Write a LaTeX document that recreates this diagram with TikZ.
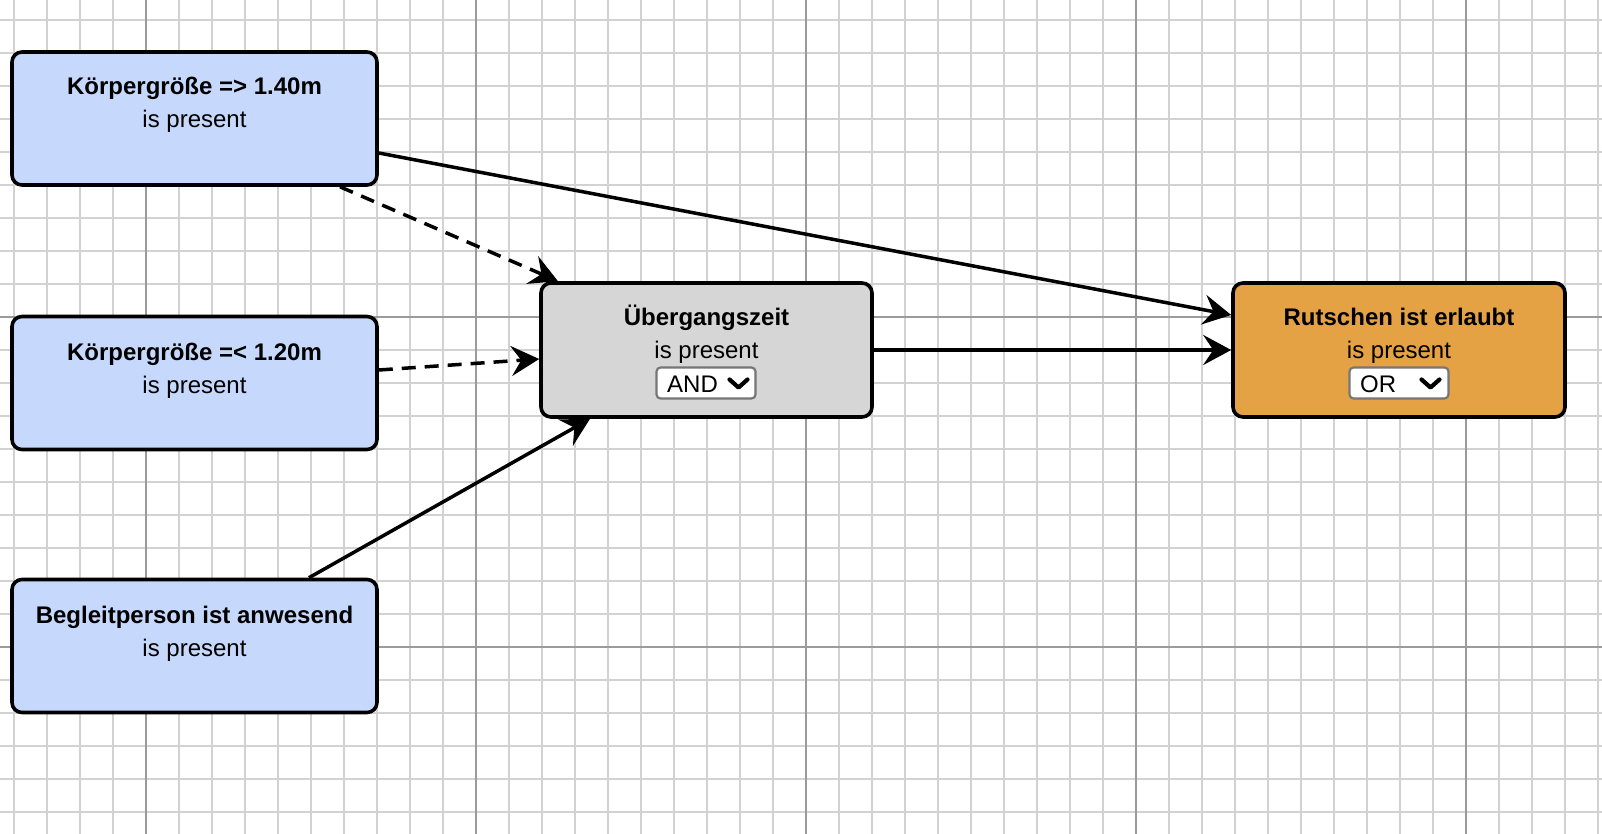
\documentclass[tikz,border=0pt]{standalone}
\usepackage{fontspec}
\setmainfont{Liberation Sans}
\usetikzlibrary{arrows.meta,calc}
\definecolor{boxblue}{RGB}{198,217,252}
\definecolor{boxgray}{RGB}{214,214,214}
\definecolor{boxorange}{RGB}{229,162,69}
\definecolor{gridminor}{RGB}{210,210,210}
\definecolor{gridmajor}{RGB}{155,155,155}
\definecolor{ddborder}{RGB}{118,118,118}
\tikzset{
  minorline/.style={draw=gridminor, line width=2.2pt},
  majorline/.style={draw=gridmajor, line width=2pt},
  card/.style={draw=black, line width=3.6pt, rounded corners=10pt, inner sep=0pt, minimum width=365pt, minimum height=133pt},
  bluecard/.style={card, fill=boxblue},
  graycard/.style={card, fill=boxgray, minimum width=331pt, minimum height=134pt},
  orangecard/.style={card, fill=boxorange, minimum width=332pt, minimum height=134pt},
  titletext/.style={anchor=base, inner sep=0pt, font=\fontsize{24}{28}\selectfont\bfseries},
  subtext/.style={anchor=base, inner sep=0pt, font=\fontsize{24}{28}\selectfont},
  dropdown/.style={draw=ddborder, fill=white, line width=2.2pt, rounded corners=4pt, minimum width=99pt, minimum height=31pt, inner sep=0pt},
  ddtext/.style={anchor=base west, inner sep=0pt, font=\fontsize{24}{28}\selectfont},
  chev/.style={draw=black, line width=4.2pt, line cap=round, line join=round},
  conn/.style={draw=black, line width=3.5pt, -{Stealth[length=28pt,width=30pt,inset=10pt]}},
  dconn/.style={conn, dash pattern=on 14pt off 9pt},
}
\begin{document}
\begin{tikzpicture}[x=1pt,y=-1pt]
\useasboundingbox (0,0) rectangle (1602,834);
\fill[white] (0,0) rectangle (1602,834);
% grid
\foreach \i in {0,...,48} \draw[minorline] ({14+33*\i},0) -- ({14+33*\i},834);
\foreach \j in {0,...,24} \draw[minorline] (0,{20+33*\j}) -- (1602,{20+33*\j});
\foreach \i in {0,...,4} \draw[majorline] ({146+330*\i},0) -- ({146+330*\i},834);
\foreach \j in {0,1} \draw[majorline] (0,{317+330*\j}) -- (1602,{317+330*\j});

% cards
\node[bluecard] (b1) at (194.5,118.5) {};
\node[bluecard] (b2) at (194.5,383) {};
\node[bluecard] (b3) at (194.5,646) {};
\node[graycard] (g) at (706.5,350) {};
\node[orangecard] (o) at (1399,350) {};

% texts
\node[titletext] (b1t) at (194.5,95) {Körpergröße => 1.40m};
\node[subtext] (b1s) at (194.5,128) {is present};
\node[titletext] (b2t) at (194.5,360) {Körpergröße =< 1.20m};
\node[subtext] (b2s) at (194.5,393) {is present};
\node[titletext] (b3t) at (194.5,623) {Begleitperson ist anwesend};
\node[subtext] (b3s) at (194.5,656) {is present};
\node[titletext] (gt) at (706.5,325) {Übergangszeit};
\node[subtext] (gs) at (706.5,358) {is present};
\node[titletext] (ot) at (1399,325) {Rutschen ist erlaubt};
\node[subtext] (os) at (1399,358) {is present};

% dropdowns
\node[dropdown] (gdd) at (706,383) {};
\node[ddtext] (gddt) at (667,392) {AND};
\draw[chev] (729.5,379.5) -- (738.5,387.5) -- (747.5,379.5);
\node[dropdown] (odd) at (1399,383) {};
\node[ddtext] (oddt) at (1360,392) {OR};
\draw[chev] (1421.5,379.5) -- (1430.5,387.5) -- (1439.5,379.5);

% connectors
\draw[conn] ([yshift=-34.5pt]b1.east) -- ([yshift=35pt]o.west);
\draw[dconn] ([xshift=145.5pt]b1.south) -- ([xshift=-148.5pt]g.north);
\draw[dconn] ([yshift=13pt]b2.east) -- ([yshift=-9pt]g.west);
\draw[conn] ([xshift=114.5pt]b3.north) -- ([xshift=-116.5pt]g.south);
\draw[conn] (g.east) -- (o.west);
\end{tikzpicture}
\end{document}
